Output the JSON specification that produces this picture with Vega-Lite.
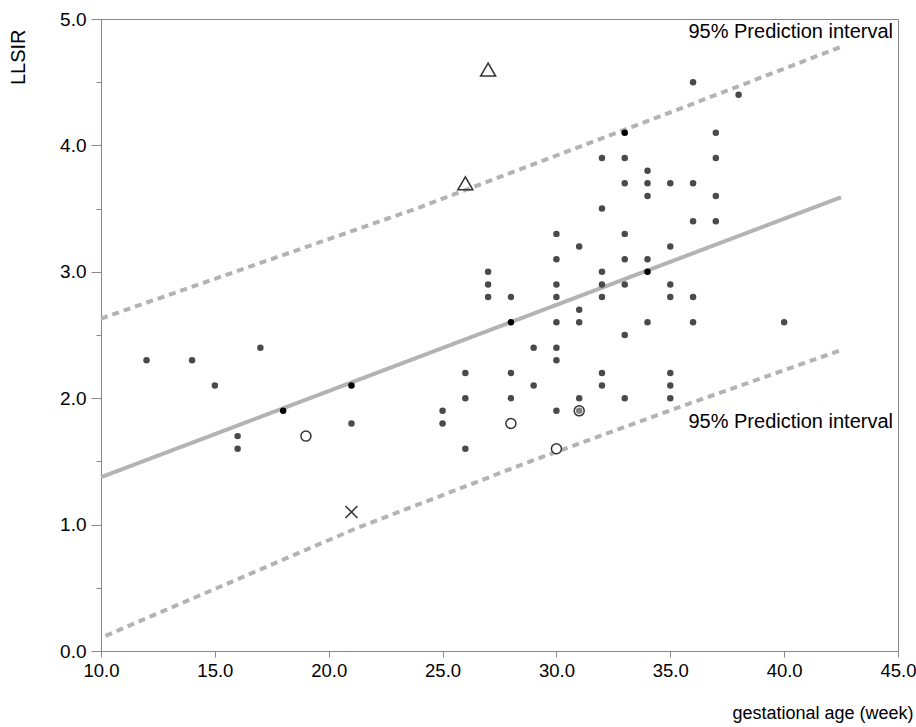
{
  "$schema": "https://vega.github.io/schema/vega-lite/v6.json",
  "width": 797,
  "height": 632,
  "autosize": "none",
  "padding": {"left": 101, "top": 19, "right": 18, "bottom": 76},
  "background": "white",
  "config": {
    "view": {"stroke": "#888", "strokeWidth": 1},
    "font": "Liberation Sans",
    "axis": {"grid": false, "domainColor": "#888", "tickColor": "#888", "labelColor": "#000", "titleColor": "#000", "titleFontWeight": "normal", "labelFont": "Liberation Sans", "titleFont": "Liberation Sans", "labelFlush": false, "labelOverlap": false}
  },
  "datasets": {
    "pts": [
      {"x": 12, "y": 2.3, "marker": "filled"}, {"x": 14, "y": 2.3, "marker": "filled"}, {"x": 15, "y": 2.1, "marker": "filled"},
      {"x": 16, "y": 1.7, "marker": "filled"}, {"x": 16, "y": 1.6, "marker": "filled"}, {"x": 17, "y": 2.4, "marker": "filled"},
      {"x": 21, "y": 1.8, "marker": "filled"}, {"x": 25, "y": 1.9, "marker": "filled"}, {"x": 25, "y": 1.8, "marker": "filled"},
      {"x": 26, "y": 2.2, "marker": "filled"}, {"x": 26, "y": 2.0, "marker": "filled"}, {"x": 26, "y": 1.6, "marker": "filled"},
      {"x": 27, "y": 3.0, "marker": "filled"}, {"x": 27, "y": 2.9, "marker": "filled"}, {"x": 27, "y": 2.8, "marker": "filled"},
      {"x": 28, "y": 2.8, "marker": "filled"}, {"x": 28, "y": 2.2, "marker": "filled"}, {"x": 28, "y": 2.0, "marker": "filled"},
      {"x": 29, "y": 2.4, "marker": "filled"}, {"x": 29, "y": 2.1, "marker": "filled"},
      {"x": 30, "y": 3.3, "marker": "filled"}, {"x": 30, "y": 3.1, "marker": "filled"}, {"x": 30, "y": 2.9, "marker": "filled"},
      {"x": 30, "y": 2.8, "marker": "filled"}, {"x": 30, "y": 2.6, "marker": "filled"}, {"x": 30, "y": 2.4, "marker": "filled"},
      {"x": 30, "y": 2.3, "marker": "filled"}, {"x": 30, "y": 1.9, "marker": "filled"},
      {"x": 31, "y": 3.2, "marker": "filled"}, {"x": 31, "y": 2.7, "marker": "filled"}, {"x": 31, "y": 2.6, "marker": "filled"},
      {"x": 31, "y": 2.0, "marker": "filled"},
      {"x": 32, "y": 3.9, "marker": "filled"}, {"x": 32, "y": 3.5, "marker": "filled"}, {"x": 32, "y": 3.0, "marker": "filled"},
      {"x": 32, "y": 2.9, "marker": "filled"}, {"x": 32, "y": 2.8, "marker": "filled"}, {"x": 32, "y": 2.2, "marker": "filled"},
      {"x": 32, "y": 2.1, "marker": "filled"},
      {"x": 33, "y": 3.9, "marker": "filled"}, {"x": 33, "y": 3.7, "marker": "filled"}, {"x": 33, "y": 3.3, "marker": "filled"},
      {"x": 33, "y": 3.1, "marker": "filled"}, {"x": 33, "y": 2.9, "marker": "filled"}, {"x": 33, "y": 2.5, "marker": "filled"},
      {"x": 33, "y": 2.0, "marker": "filled"},
      {"x": 34, "y": 3.8, "marker": "filled"}, {"x": 34, "y": 3.7, "marker": "filled"}, {"x": 34, "y": 3.6, "marker": "filled"},
      {"x": 34, "y": 3.1, "marker": "filled"}, {"x": 34, "y": 2.6, "marker": "filled"},
      {"x": 35, "y": 3.7, "marker": "filled"}, {"x": 35, "y": 3.2, "marker": "filled"}, {"x": 35, "y": 2.9, "marker": "filled"},
      {"x": 35, "y": 2.8, "marker": "filled"}, {"x": 35, "y": 2.2, "marker": "filled"}, {"x": 35, "y": 2.1, "marker": "filled"},
      {"x": 35, "y": 2.0, "marker": "filled"},
      {"x": 36, "y": 4.5, "marker": "filled"}, {"x": 36, "y": 3.7, "marker": "filled"}, {"x": 36, "y": 3.4, "marker": "filled"},
      {"x": 36, "y": 2.8, "marker": "filled"}, {"x": 36, "y": 2.6, "marker": "filled"},
      {"x": 37, "y": 4.1, "marker": "filled"}, {"x": 37, "y": 3.9, "marker": "filled"}, {"x": 37, "y": 3.6, "marker": "filled"},
      {"x": 37, "y": 3.4, "marker": "filled"},
      {"x": 38, "y": 4.4, "marker": "filled"}, {"x": 40, "y": 2.6, "marker": "filled"},
      {"x": 18, "y": 1.9, "marker": "dark"}, {"x": 21, "y": 2.1, "marker": "dark"}, {"x": 28, "y": 2.6, "marker": "dark"},
      {"x": 34, "y": 3.0, "marker": "dark"}, {"x": 33, "y": 4.1, "marker": "dark"},
      {"x": 19, "y": 1.7, "marker": "open"}, {"x": 28, "y": 1.8, "marker": "open"}, {"x": 30, "y": 1.6, "marker": "open"},
      {"x": 31, "y": 1.9, "marker": "double"},
      {"x": 26, "y": 3.7, "marker": "triangle"}, {"x": 27, "y": 4.6, "marker": "triangle"},
      {"x": 21, "y": 1.1, "marker": "cross"}
    ],
    "lines": [
      {"x": 10, "y": 1.375, "series": "fit"}, {"x": 42.5, "y": 3.59, "series": "fit"},
      {"x": 10, "y": 2.63, "series": "upper"}, {"x": 24, "y": 3.51, "series": "upper"}, {"x": 34.7, "y": 4.24, "series": "upper"}, {"x": 42.5, "y": 4.78, "series": "upper"},
      {"x": 10.2, "y": 0.12, "series": "lower"}, {"x": 21.2, "y": 0.97, "series": "lower"}, {"x": 29, "y": 1.51, "series": "lower"}, {"x": 35.4, "y": 1.93, "series": "lower"}, {"x": 42.5, "y": 2.38, "series": "lower"}
    ],
    "labels": [
      {"x": 44.78, "y": 4.85, "text": "95% Prediction interval"},
      {"x": 44.78, "y": 1.765, "text": "95% Prediction interval"}
    ]
  },
  "encoding": {
    "x": {
      "field": "x", "type": "quantitative",
      "scale": {"domain": [10, 45], "nice": false, "zero": false},
      "axis": {
        "values": [10, 15, 20, 25, 30, 35, 40, 45], "format": ".1f",
        "tickSize": 6, "labelPadding": 4, "labelFontSize": 18.5,
        "title": "gestational age (week)", "titleFontSize": 18,
        "titleAlign": "right", "titleAnchor": "end", "titleX": 812, "titleY": 67, "titleBaseline": "alphabetic"
      }
    },
    "y": {
      "field": "y", "type": "quantitative",
      "scale": {"domain": [0, 5], "nice": false, "zero": false},
      "axis": {
        "values": [0, 0.5, 1, 1.5, 2, 2.5, 3, 3.5, 4, 4.5, 5], "format": ".1f",
        "labelExpr": "datum.value % 1 === 0 ? datum.label : ''",
        "tickSize": {"condition": {"test": "datum.value % 1 === 0", "value": 10}, "value": 5},
        "labelPadding": 5, "labelFontSize": 19,
        "title": "LLSIR", "titleFontSize": 20, "titleAngle": -90,
        "titleX": -83, "titleY": 10, "titleAlign": "right", "titleBaseline": "middle"
      }
    }
  },
  "layer": [
    {
      "data": {"name": "lines"},
      "mark": {"type": "line", "color": "#b3b3b3", "strokeWidth": 4, "strokeCap": "butt"},
      "encoding": {
        "detail": {"field": "series"},
        "strokeDash": {"field": "series", "type": "nominal", "scale": {"domain": ["fit", "upper", "lower"], "range": [[1, 0], [7, 5], [7, 5]]}, "legend": null}
      }
    },
    {
      "data": {"name": "pts"},
      "transform": [{"filter": "datum.marker === 'open' || datum.marker === 'double'"}],
      "mark": {"type": "point", "shape": "circle", "filled": false, "size": 100, "stroke": "#333", "strokeWidth": 1.5, "fill": "white", "fillOpacity": 1, "opacity": 1}
    },
    {
      "data": {"name": "pts"},
      "transform": [{"filter": "datum.marker === 'filled' || datum.marker === 'dark' || datum.marker === 'double'"}],
      "mark": {"type": "circle", "size": 42, "opacity": 1},
      "encoding": {
        "color": {"field": "marker", "type": "nominal", "scale": {"domain": ["filled", "dark", "double"], "range": ["#4a4a4a", "#000000", "#808080"]}, "legend": null},
        "size": {"field": "marker", "type": "nominal", "scale": {"domain": ["filled", "dark", "double"], "range": [42, 42, 28]}, "legend": null}
      }
    },
    {
      "data": {"name": "pts"},
      "transform": [{"filter": "datum.marker === 'triangle'"}],
      "mark": {"type": "point", "shape": "triangle-up", "filled": false, "size": 225, "stroke": "#333", "strokeWidth": 1.5, "opacity": 1}
    },
    {
      "data": {"name": "pts"},
      "transform": [{"filter": "datum.marker === 'cross'"}],
      "mark": {"type": "point", "shape": "M-1,-1L1,1M-1,1L1,-1", "filled": false, "size": 144, "stroke": "#333", "strokeWidth": 1.5, "opacity": 1}
    },
    {
      "data": {"name": "labels"},
      "mark": {"type": "text", "align": "right", "baseline": "alphabetic", "fontSize": 20, "font": "Liberation Sans", "color": "#000"},
      "encoding": {"text": {"field": "text"}}
    }
  ]
}
